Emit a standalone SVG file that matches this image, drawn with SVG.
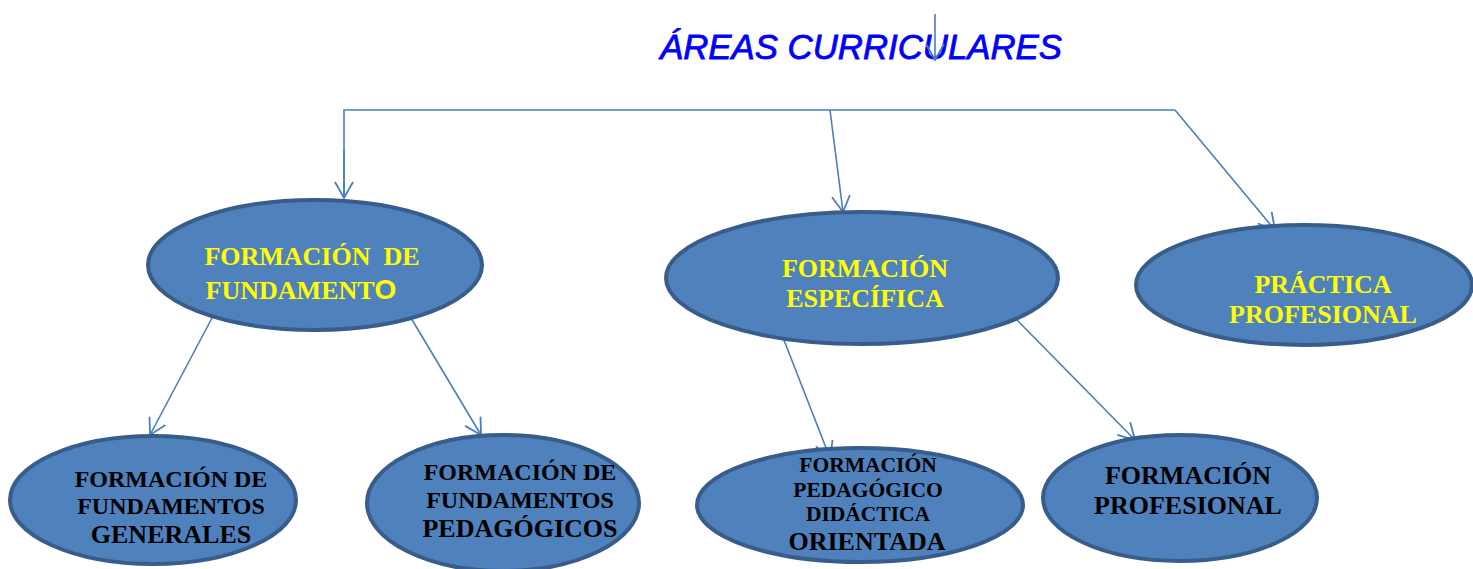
<svg xmlns="http://www.w3.org/2000/svg" width="1473" height="569" viewBox="0 0 1473 569">
<style>
.node{fill:#4F81BD;stroke:#385D8A;stroke-width:4}
.y{font-family:"Liberation Serif",serif;font-weight:bold;fill:#FFFF00;text-anchor:middle}
.k{font-family:"Liberation Serif",serif;font-weight:bold;fill:#000000;text-anchor:middle}
.c{fill:none;stroke:#4A7EBB;stroke-width:1.6}
</style>
<defs>
<marker id="arr" markerUnits="userSpaceOnUse" markerWidth="20" markerHeight="22" refX="17" refY="11" orient="auto">
<path d="M1,2 L17,11 L1,20" fill="none" stroke="#4A7EBB" stroke-width="1.8"/>
</marker>
</defs>
<rect width="1473" height="569" fill="#FFFFFF"/>
<g id="title">
<text x="861" y="59" font-family="Liberation Sans, sans-serif" font-style="italic" font-size="35" fill="#0000FF" stroke="#0000FF" stroke-width="0.8" text-anchor="middle" textLength="402" lengthAdjust="spacingAndGlyphs">ÁREAS CURRICULARES</text>
</g>
<g id="connectors">
<line class="c" x1="935" y1="14" x2="935" y2="60" marker-end="url(#arr)"/>
<polyline class="c" points="344,198 344,110 1175,110"/>
<line class="c" x1="344" y1="150" x2="344" y2="198" marker-end="url(#arr)"/>
<line class="c" x1="830" y1="110" x2="843" y2="212" marker-end="url(#arr)"/>
<line class="c" x1="1175" y1="110" x2="1275" y2="230" marker-end="url(#arr)"/>
<line class="c" x1="212" y1="318" x2="150" y2="435" marker-end="url(#arr)"/>
<line class="c" x1="411" y1="318" x2="481" y2="435" marker-end="url(#arr)"/>
<line class="c" x1="782" y1="335" x2="830" y2="458" marker-end="url(#arr)"/>
<line class="c" x1="1017" y1="320" x2="1135" y2="440" marker-end="url(#arr)"/>
</g>
<g id="n-fundamento">
<ellipse class="node" cx="315" cy="265" rx="167" ry="65"/>
<text class="y" x="312" y="265" font-size="26" xml:space="preserve">FORMACIÓN  DE</text>
<text class="y" x="301" y="299" font-size="26">FUNDAMENT<tspan font-family="Liberation Sans, sans-serif" font-size="28">O</tspan></text>
</g>
<g id="n-especifica">
<ellipse class="node" cx="862" cy="278" rx="196" ry="66"/>
<text class="y" x="865" y="277" font-size="26">FORMACIÓN</text>
<text class="y" x="865" y="307" font-size="26">ESPECÍFICA</text>
</g>
<g id="n-practica">
<ellipse class="node" cx="1304" cy="285" rx="168" ry="60"/>
<text class="y" x="1323" y="293" font-size="26">PRÁCTICA</text>
<text class="y" x="1323" y="323" font-size="26">PROFESIONAL</text>
</g>
<g id="n-generales">
<ellipse class="node" cx="153" cy="500" rx="143" ry="64"/>
<text class="k" x="171" y="487" font-size="24">FORMACIÓN DE</text>
<text class="k" x="171" y="514" font-size="24">FUNDAMENTOS</text>
<text class="k" x="171" y="543" font-size="26">GENERALES</text>
</g>
<g id="n-pedagogicos">
<ellipse class="node" cx="503" cy="503" rx="136" ry="68"/>
<text class="k" x="520" y="480" font-size="24">FORMACIÓN DE</text>
<text class="k" x="520" y="508" font-size="24">FUNDAMENTOS</text>
<text class="k" x="520" y="537" font-size="26">PEDAGÓGICOS</text>
</g>
<g id="n-orientada">
<ellipse class="node" cx="860" cy="505" rx="163" ry="57"/>
<text class="k" x="868" y="472" font-size="21.5">FORMACIÓN</text>
<text class="k" x="868" y="497" font-size="21.5">PEDAGÓGICO</text>
<text class="k" x="868" y="521" font-size="21.5">DIDÁCTICA</text>
<text class="k" x="867" y="550" font-size="26">ORIENTADA</text>
</g>
<g id="n-profesional">
<ellipse class="node" cx="1180" cy="498" rx="137" ry="63"/>
<text class="k" x="1188" y="484" font-size="26">FORMACIÓN</text>
<text class="k" x="1188" y="514" font-size="26">PROFESIONAL</text>
</g>
</svg>
